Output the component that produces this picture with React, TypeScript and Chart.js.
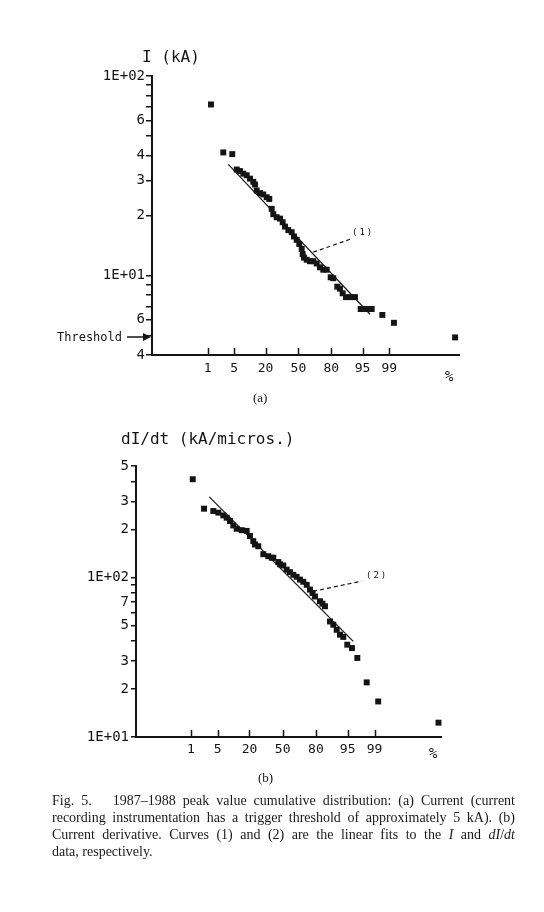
import React, { useEffect, useRef } from "react";
import { Chart, registerables } from "chart.js";
Chart.register(...registerables);

// ---------- shared x axis (normal probability, %) ----------
const X_TICK_PCT = [1, 5, 20, 50, 80, 95, 99];
const X_TICK_LABELS = ["1", "5", "20", "50", "80", "95", "99"];

// ---------- (a) peak current I (kA) ----------
const I_Y_TICKS = [4, 5, 6, 7, 8, 9, 10, 20, 30, 40, 50, 60, 70, 80, 90, 100];
const I_Y_LABELS: Record<number, string> = { 4: "4", 6: "6", 10: "1E+01", 20: "2", 30: "3", 40: "4", 60: "6", 100: "1E+02" };
const I_PCT = [1.26, 2.72, 4.52, 5.71, 6.73, 7.91, 9.28, 10.77, 12.4, 13.33, 14.28, 16.28, 18.43, 20.84, 22.81, 24.7, 26.01, 28.91, 31.88, 34.38, 36.58, 39.79, 43.17, 45.5, 48.25, 50.92, 53.37, 54.38, 55.69, 58.42, 61.68, 64.86, 68.04, 70.99, 73.82, 76.58, 79.59, 81.43, 84.04, 85.66, 87.16, 88.86, 90.97, 92.63, 94.46, 95.83, 96.97, 98.42, 99.28, 99.997];
const I_KA = [72, 41.4, 40.6, 34.0, 33.4, 32.4, 31.8, 30.6, 29.5, 28.6, 26.7, 25.9, 25.5, 24.7, 24.2, 21.6, 20.3, 19.6, 19.3, 18.5, 17.6, 16.9, 16.5, 15.7, 15.1, 14.4, 13.6, 12.8, 12.3, 12.0, 11.8, 11.8, 11.5, 11.0, 10.7, 10.7, 9.8, 9.7, 8.8, 8.6, 8.15, 7.8, 7.8, 7.8, 6.8, 6.8, 6.8, 6.35, 5.8, 4.9];
const I_FIT_PCT = [3.63, 96.67];
const I_FIT_KA = [36.1, 6.4];
const I_LEADER_PCT = [64.8, 91.4];
const I_LEADER_KA = [13.1, 15.3];

// ---------- (b) dI/dt (kA/micros.) ----------
const D_Y_TICKS = [10, 20, 30, 40, 50, 60, 70, 80, 90, 100, 200, 300, 400, 500];
const D_Y_LABELS: Record<number, string> = { 10: "1E+01", 20: "2", 30: "3", 50: "5", 70: "7", 100: "1E+02", 200: "2", 300: "3", 500: "5" };
const D_PCT = [1.14, 2.32, 3.95, 5.16, 6.63, 7.81, 9.11, 10.55, 12.2, 14.96, 18.11, 20.38, 22.84, 24.16, 26.83, 31.17, 35.76, 39.05, 40.59, 45.58, 47.28, 50.6, 54.02, 57.3, 60.56, 63.8, 66.93, 69.9, 72.84, 75.52, 77.5, 79.33, 82.74, 84.3, 85.79, 88.44, 89.99, 91.42, 92.66, 93.75, 94.9, 96.03, 97.06, 98.33, 99.22, 99.996];
const D_VAL = [413, 270, 261, 255, 245, 237, 226, 212, 202, 198, 196, 182, 169, 161, 157, 140, 136, 133, 133, 125, 121, 119, 112, 108, 104, 101, 97, 94, 90, 84, 80, 76, 71, 68.5, 66, 53, 50.6, 47, 43.8, 42.4, 37.9, 36.1, 31.3, 22.0, 16.7, 12.3];
const D_FIT_PCT = [3.16, 96.3];
const D_FIT_VAL = [320, 39.8];
const D_LEADER_PCT = [78.1, 97.7];
const D_LEADER_VAL = [82.0, 94.8];

// inverse of the standard normal CDF (Acklam), used by the probability axis
function probit(p: number): number {
  const a = [-39.69683028665376, 220.9460984245205, -275.9285104469687, 138.357751867269, -30.66479806614716, 2.506628277459239];
  const b = [-54.47609879822406, 161.5858368580409, -155.6989798598866, 66.80131188771972, -13.28068155288572];
  const c = [-0.007784894002430293, -0.3223964580411365, -2.400758277161838, -2.549732539343734, 4.374664141464968, 2.938163982698783];
  const d = [0.007784695709041462, 0.3224671290700398, 2.445134137142996, 3.754408661907416];
  const plow = 0.02425;
  if (p < plow) {
    const q = Math.sqrt(-2 * Math.log(p));
    return (((((c[0] * q + c[1]) * q + c[2]) * q + c[3]) * q + c[4]) * q + c[5]) / ((((d[0] * q + d[1]) * q + d[2]) * q + d[3]) * q + 1);
  }
  if (p <= 1 - plow) {
    const q = p - 0.5;
    const r = q * q;
    return ((((((a[0] * r + a[1]) * r + a[2]) * r + a[3]) * r + a[4]) * r + a[5]) * q) / (((((b[0] * r + b[1]) * r + b[2]) * r + b[3]) * r + b[4]) * r + 1);
  }
  const q = Math.sqrt(-2 * Math.log(1 - p));
  return -(((((c[0] * q + c[1]) * q + c[2]) * q + c[3]) * q + c[4]) * q + c[5]) / ((((d[0] * q + d[1]) * q + d[2]) * q + d[3]) * q + 1);
}

const INK = "#141414";
const MONO = "'DejaVu Sans Mono', monospace";

const innerTicks = {
  id: "innerTicks",
  afterDraw(chart: any) {
    const xs = chart.scales.x;
    const ctx = chart.ctx;
    const b = chart.chartArea.bottom;
    ctx.save();
    ctx.strokeStyle = INK;
    ctx.lineWidth = 1.5;
    xs.ticks.forEach((t: any) => {
      const px = Math.round(xs.getPixelForValue(t.value)) + 0.5;
      ctx.beginPath();
      ctx.moveTo(px, b);
      ctx.lineTo(px, b - 7);
      ctx.stroke();
    });
    ctx.restore();
  },
};

type P = {
  top: number;
  height: number;
  pad: { left: number; right: number; top: number; bottom: number };
  xMin: number;
  xMax: number;
  yMin: number;
  yMax: number;
  yTicks: number[];
  yLabels: Record<number, string>;
  pct: number[];
  vals: number[];
  fitPct: number[];
  fitVals: number[];
  leadPct: number[];
  leadVals: number[];
  tickLen: number;
  labelPad: number;
  xPad: number;
};

function ProbChart(p: P) {
  const ref = useRef<HTMLCanvasElement>(null);
  useEffect(() => {
    const toPts = (pc: number[], v: number[]) => pc.map((q, i) => ({ x: probit(q / 100), y: v[i] }));
    const chart = new Chart(ref.current as HTMLCanvasElement, {
      type: "scatter",
      data: {
        datasets: [
          {
            data: toPts(p.pct, p.vals),
            pointStyle: "rect",
            pointRadius: 4.2,
            pointBackgroundColor: INK,
            pointBorderWidth: 0,
            clip: false,
          } as any,
          {
            data: toPts(p.fitPct, p.fitVals),
            showLine: true,
            borderColor: INK,
            borderWidth: 1.2,
            pointRadius: 0,
          },
          {
            data: toPts(p.leadPct, p.leadVals),
            showLine: true,
            borderColor: INK,
            borderWidth: 1.2,
            borderDash: [4, 3],
            pointRadius: 0,
          },
        ],
      },
      options: {
        animation: false,
        responsive: false,
        devicePixelRatio: 1,
        layout: { padding: p.pad },
        plugins: { legend: { display: false }, tooltip: { enabled: false } },
        scales: {
          x: {
            type: "linear",
            min: p.xMin,
            max: p.xMax,
            afterBuildTicks: (s: any) => {
              s.ticks = X_TICK_PCT.map((q) => ({ value: probit(q / 100) }));
            },
            afterFit: (s: any) => {
              s.height = 30;
            },
            ticks: {
              autoSkip: false,
              maxRotation: 0,
              padding: p.xPad,
              color: INK,
              font: { family: MONO, size: 13 },
              callback: (_v: any, i: number) => X_TICK_LABELS[i],
            },
            grid: { display: false, drawTicks: false },
            border: { display: true, color: INK, width: 2 },
          },
          y: {
            type: "logarithmic",
            min: p.yMin,
            max: p.yMax,
            afterBuildTicks: (s: any) => {
              s.ticks = p.yTicks.map((v) => ({ value: v }));
            },
            afterFit: (s: any) => {
              s.width = 60;
            },
            ticks: {
              autoSkip: false,
              padding: p.labelPad,
              color: INK,
              font: { family: MONO, size: 14 },
              callback: (v: any) => p.yLabels[Number(v)] ?? "",
            },
            grid: { display: true, drawOnChartArea: false, drawTicks: true, tickLength: p.tickLen, color: INK, lineWidth: 1.5 },
            border: { display: true, color: INK, width: 2 },
          },
        },
      },
      plugins: [innerTicks],
    } as any);
    return () => chart.destroy();
  }, []);
  return (
    <canvas
      ref={ref}
      width={544}
      height={p.height}
      style={{ position: "absolute", left: 0, top: p.top, width: 544, height: p.height }}
    />
  );
}

const abs = (left: number, top: number, extra: React.CSSProperties = {}): React.CSSProperties => ({
  position: "absolute",
  left,
  top,
  lineHeight: 1,
  whiteSpace: "nowrap",
  color: INK,
  ...extra,
});

const capLine: React.CSSProperties = {
  position: "absolute",
  left: 52,
  width: 463,
  textAlign: "justify",
  textAlignLast: "justify" as any,
  fontFamily: "'Liberation Serif', 'Times New Roman', serif",
  fontSize: 14,
  lineHeight: "17px",
  color: "#1a1a1a",
};

export default function App() {
  return (
    <div style={{ position: "absolute", left: 0, top: 0, width: 544, height: 912, background: "#fff", overflow: "hidden" }}>
      <ProbChart
        top={0}
        height={400}
        pad={{ left: 92, right: 85, top: 76, bottom: 15 }}
        xMin={-3.749}
        xMax={4.113}
        yMin={4}
        yMax={100}
        yTicks={I_Y_TICKS}
        yLabels={I_Y_LABELS}
        pct={I_PCT}
        vals={I_KA}
        fitPct={I_FIT_PCT}
        fitVals={I_FIT_KA}
        leadPct={I_LEADER_PCT}
        leadVals={I_LEADER_KA}
        tickLen={6}
        labelPad={1}
        xPad={6}
      />
      <ProbChart
        top={400}
        height={400}
        pad={{ left: 76, right: 103, top: 66, bottom: 33 }}
        xMin={-3.714}
        xMax={4.008}
        yMin={10}
        yMax={500}
        yTicks={D_Y_TICKS}
        yLabels={D_Y_LABELS}
        pct={D_PCT}
        vals={D_VAL}
        fitPct={D_FIT_PCT}
        fitVals={D_FIT_VAL}
        leadPct={D_LEADER_PCT}
        leadVals={D_LEADER_VAL}
        tickLen={5}
        labelPad={2}
        xPad={5}
      />

      {/* chart (a) texts */}
      <div style={abs(142, 49, { fontFamily: MONO, fontSize: 16 })}>I (kA)</div>
      <div style={abs(57, 331, { fontFamily: MONO, fontSize: 12 })}>Threshold</div>
      <svg style={{ position: "absolute", left: 126, top: 331 }} width={26} height={12}>
        <line x1={1} y1={6} x2={20} y2={6} stroke={INK} strokeWidth={1.5} />
        <polygon points="25,6 17,2 17,10" fill={INK} />
      </svg>
      <div style={abs(445, 369, { fontFamily: MONO, fontSize: 14 })}>%</div>
      <div style={abs(352, 228, { fontFamily: MONO, fontSize: 9, letterSpacing: 2 })}>(1)</div>
      <div style={abs(253, 391, { fontFamily: "'Liberation Serif', serif", fontSize: 13 })}>(a)</div>

      {/* chart (b) texts */}
      <div style={abs(121, 431, { fontFamily: MONO, fontSize: 16 })}>dI/dt (kA/micros.)</div>
      <div style={abs(429, 746, { fontFamily: MONO, fontSize: 14 })}>%</div>
      <div style={abs(366, 571, { fontFamily: MONO, fontSize: 9, letterSpacing: 2 })}>(2)</div>
      <div style={abs(258, 771, { fontFamily: "'Liberation Serif', serif", fontSize: 13 })}>(b)</div>

      {/* caption */}
      <div style={{ ...capLine, top: 792 }}>Fig. 5.&nbsp;&nbsp; 1987–1988 peak value cumulative distribution: (a) Current (current</div>
      <div style={{ ...capLine, top: 809 }}>recording instrumentation has a trigger threshold of approximately 5 kA). (b)</div>
      <div style={{ ...capLine, top: 826 }}>
        Current derivative. Curves (1) and (2) are the linear fits to the <i>I</i> and <i>dI</i>/<i>dt</i>
      </div>
      <div style={{ ...capLine, top: 843, textAlignLast: "left" as any }}>data, respectively.</div>
    </div>
  );
}
